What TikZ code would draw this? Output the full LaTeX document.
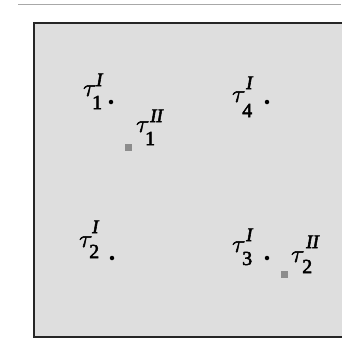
\documentclass[tikz,border=0pt]{standalone}
\usepackage{fontspec}
\newfontfamily\lblfont{Liberation Serif}
\definecolor{boxfill}{HTML}{DEDEDE}
\definecolor{sqgray}{HTML}{8C8C8C}
\definecolor{topline}{HTML}{A8A8A8}
% #1 sub, #2 sup, #3 sub x-offset, #4 sub lowering, #5 sup x-offset, #6 sup raising
\newcommand{\taulbl}[6]{\special{pdf:literal direct 2 Tr 0.5 w}%
\rlap{\fontsize{25}{25}\selectfont$\tau$}%
\rlap{\kern#3pt\raisebox{-#4pt}{\fontsize{20}{20}\lblfont #1}}%
\kern#5pt\raisebox{#6pt}{\fontsize{19}{19}\lblfont\itshape #2}%
\special{pdf:literal direct 0 Tr}}
\tikzset{
  lbl/.style={inner sep=0pt, anchor=base west},
  pt/.style={circle, fill=black, inner sep=0pt, minimum size=4.5pt},
  sq/.style={rectangle, fill=sqgray, inner sep=0pt, minimum size=7pt},
}
\begin{document}
\begin{tikzpicture}[x=1pt,y=-1pt]
\useasboundingbox (0,0) rectangle (341,346);
\fill[white] (0,0) rectangle (341,346);
\draw[topline, line width=1pt] (18,4) -- (341,4);
\draw[fill=boxfill, draw=black!85, line width=1.6pt] (34,23) rectangle (345,337);
\node[pt] (p1) at (111,102) {};
\node[pt] (p4) at (267,102) {};
\node[pt] (p2) at (112,258) {};
\node[pt] (p3) at (267,258) {};
\node[sq] (s1) at (128,147) {};
\node[sq] (s2) at (284,274) {};
\node[lbl] (l1) at (83,96) {\taulbl{1}{I}{9}{13}{13}{10}};
\node[lbl] (l4) at (232,102) {\taulbl{4}{I}{10}{15}{14}{13}};
\node[lbl] (l1b) at (136,132) {\taulbl{1}{II}{9}{13}{14}{10}};
\node[lbl] (l2) at (79,247) {\taulbl{2}{I}{10}{11}{13}{14}};
\node[lbl] (l3) at (232,252) {\taulbl{3}{I}{10}{13}{14}{11}};
\node[lbl] (l2b) at (291,262) {\taulbl{2}{II}{11}{11}{15}{14}};
\end{tikzpicture}
\end{document}
